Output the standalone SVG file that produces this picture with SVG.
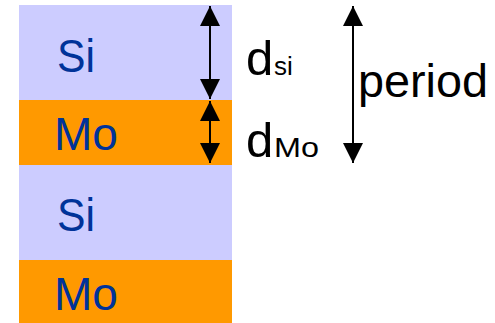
<svg xmlns="http://www.w3.org/2000/svg" width="495" height="323" viewBox="0 0 495 323">
<defs>
<style>
.si{fill:#CCCCFF}
.mo{fill:#FF9900}
.lt{font-family:"Liberation Sans",Arial,sans-serif;font-size:47px;fill:#003399}
.lb{font-family:"Liberation Sans",Arial,sans-serif;fill:#000}
.ln{stroke:#000;stroke-width:2;fill:none}
</style>
<marker id="ah" viewBox="0 0 20 24" refX="20" refY="10" markerWidth="20" markerHeight="24" markerUnits="userSpaceOnUse" orient="auto-start-reverse">
<path d="M0,0 L20,10 L0,20 Z" fill="#000"/>
</marker>
<marker id="ahs" viewBox="0 0 20 20" refX="20" refY="10" markerWidth="20" markerHeight="20" markerUnits="userSpaceOnUse" orient="auto-start-reverse">
<path d="M0,0 L20,10 L0,20 Z" fill="#000"/>
</marker>
</defs>
<g id="layer-si-1"><rect class="si" x="19" y="5" width="213" height="95"/><text class="lt" x="57" y="72" textLength="38" lengthAdjust="spacingAndGlyphs">Si</text></g>
<g id="layer-mo-1"><rect class="mo" x="19" y="100" width="213" height="65"/><text class="lt" x="54" y="150" textLength="64" lengthAdjust="spacingAndGlyphs">Mo</text></g>
<g id="layer-si-2"><rect class="si" x="19" y="165" width="213" height="95"/><text class="lt" x="57" y="231" textLength="38" lengthAdjust="spacingAndGlyphs">Si</text></g>
<g id="layer-mo-2"><rect class="mo" x="19" y="260" width="213" height="63"/><text class="lt" x="54" y="310" textLength="64" lengthAdjust="spacingAndGlyphs">Mo</text></g>
<g id="connectors">
<line class="ln" x1="210" y1="6" x2="210" y2="99" marker-start="url(#ah)" marker-end="url(#ah)"/>
<line class="ln" x1="210" y1="101" x2="210" y2="163" marker-start="url(#ahs)" marker-end="url(#ahs)"/>
<line class="ln" x1="353" y1="6" x2="353" y2="163" marker-start="url(#ahs)" marker-end="url(#ahs)"/>
</g>
<g id="label-dsi"><text class="lb" x="246" y="75" font-size="49">d</text><text class="lb" x="274" y="75" font-size="26">si</text></g>
<g id="label-dmo"><text class="lb" x="246" y="157" font-size="49">d</text><text class="lb" x="274" y="157" font-size="28" textLength="45" lengthAdjust="spacingAndGlyphs">Mo</text></g>
<g id="label-period"><text class="lb" x="358" y="97" font-size="46" textLength="130" lengthAdjust="spacingAndGlyphs">period</text></g>
</svg>
